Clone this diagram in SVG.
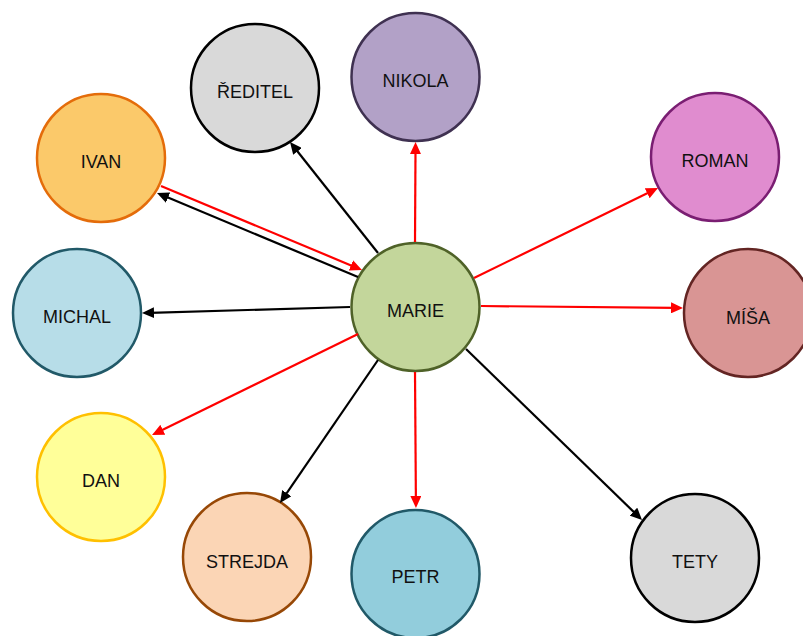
<svg xmlns="http://www.w3.org/2000/svg" width="803" height="636" viewBox="0 0 803 636">
  <style>
    .node circle { stroke-width: 2.5; }
    .node text { font-family: "Liberation Sans", Arial, sans-serif; font-size: 18px; fill: #111111; text-anchor: middle; }
    .red { stroke: #ff0000; stroke-width: 2.2; fill: none; marker-end: url(#arrRed); }
    .blk { stroke: #000000; stroke-width: 2.2; fill: none; marker-end: url(#arrBlk); }
  </style>
  <defs>
    <marker id="arrRed" markerUnits="userSpaceOnUse" markerWidth="12" markerHeight="11" refX="4" refY="5.5" orient="auto">
      <path d="M0,0 L12,5.5 L0,11 z" fill="#ff0000"/>
    </marker>
    <marker id="arrBlk" markerUnits="userSpaceOnUse" markerWidth="12" markerHeight="11" refX="4" refY="5.5" orient="auto">
      <path d="M0,0 L12,5.5 L0,11 z" fill="#000000"/>
    </marker>
  </defs>
  <rect width="803" height="636" fill="#ffffff"/>

  <g id="node-reditel" class="node">
    <circle cx="255" cy="88" r="64" fill="#d9d9d9" stroke="#000000"/>
    <text x="255" y="98">ŘEDITEL</text>
  </g>
  <g id="node-nikola" class="node">
    <circle cx="415.5" cy="77" r="64" fill="#b2a1c7" stroke="#3f3151"/>
    <text x="415.5" y="87">NIKOLA</text>
  </g>
  <g id="node-ivan" class="node">
    <circle cx="101" cy="158" r="64" fill="#fbc96a" stroke="#e46c0a"/>
    <text x="101" y="168">IVAN</text>
  </g>
  <g id="node-roman" class="node">
    <circle cx="715" cy="157" r="64" fill="#e08ccf" stroke="#7a1e72"/>
    <text x="715" y="167">ROMAN</text>
  </g>
  <g id="node-michal" class="node">
    <circle cx="77" cy="313" r="64" fill="#b7dde8" stroke="#215968"/>
    <text x="77" y="323">MICHAL</text>
  </g>
  <g id="node-marie" class="node">
    <circle cx="415.5" cy="307" r="64" fill="#c3d69b" stroke="#4f6228"/>
    <text x="415.5" y="317">MARIE</text>
  </g>
  <g id="node-misa" class="node">
    <circle cx="748" cy="313" r="64" fill="#d99594" stroke="#632523"/>
    <text x="748" y="324">MÍŠA</text>
  </g>
  <g id="node-dan" class="node">
    <circle cx="101" cy="477" r="64" fill="#ffff99" stroke="#ffc000"/>
    <text x="101" y="487">DAN</text>
  </g>
  <g id="node-strejda" class="node">
    <circle cx="247" cy="557" r="64" fill="#fbd5b5" stroke="#974806"/>
    <text x="247" y="568">STREJDA</text>
  </g>
  <g id="node-petr" class="node">
    <circle cx="415.5" cy="574" r="64" fill="#92cddc" stroke="#215968"/>
    <text x="415.5" y="583">PETR</text>
  </g>
  <g id="node-tety" class="node">
    <circle cx="695" cy="558" r="64" fill="#d9d9d9" stroke="#000000"/>
    <text x="695" y="568">TETY</text>
  </g>

  <g id="connectors">
    <line class="blk" x1="378" y1="253" x2="295" y2="148.3"/>
    <line class="red" x1="415" y1="242" x2="415.5" y2="150"/>
    <line class="red" x1="474" y1="278" x2="650.8" y2="191.5"/>
    <line class="red" x1="481" y1="306" x2="675" y2="307.9"/>
    <line class="red" x1="415" y1="372" x2="415.9" y2="500"/>
    <line class="blk" x1="466" y1="349" x2="636.3" y2="514.4"/>
    <line class="blk" x1="378" y1="360" x2="284.5" y2="496.4"/>
    <line class="red" x1="358" y1="334" x2="159.2" y2="431.5"/>
    <line class="blk" x1="350" y1="307" x2="150" y2="312.8"/>
    <line class="red" x1="161" y1="186" x2="354.6" y2="266.9"/>
    <line class="blk" x1="358" y1="277" x2="164.4" y2="196.1"/>
  </g>
</svg>
